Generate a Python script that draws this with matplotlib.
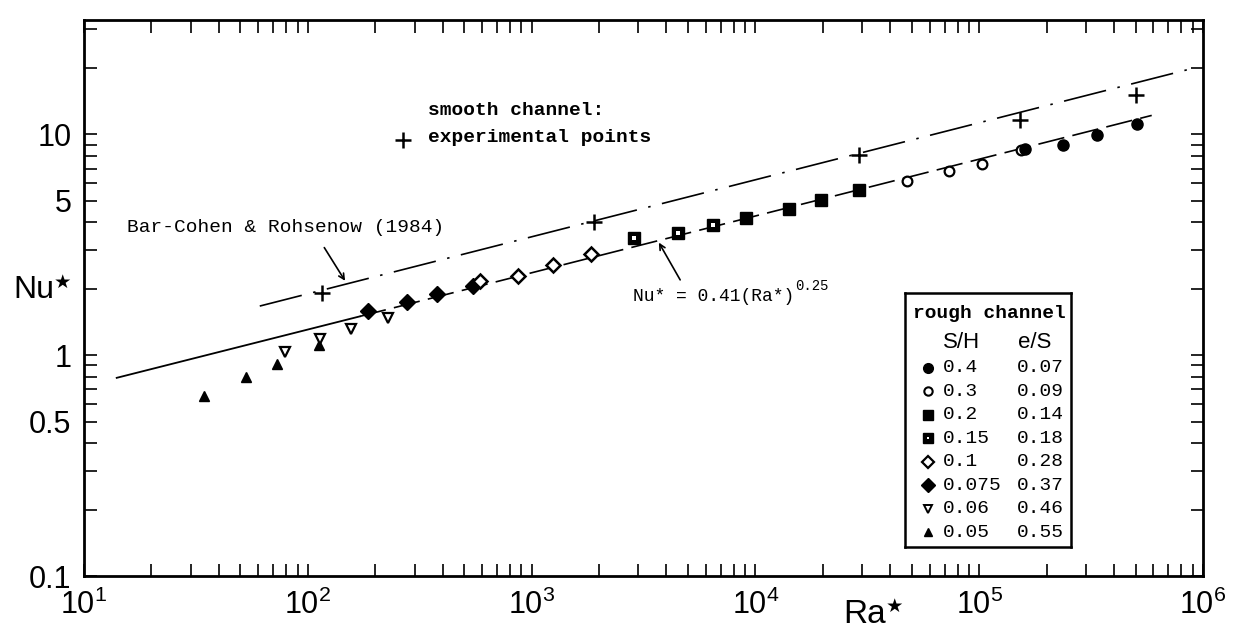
import numpy as np
import matplotlib
matplotlib.use('Agg')
import matplotlib.pyplot as plt
from matplotlib.ticker import FixedLocator, FixedFormatter, LogLocator, NullFormatter

plt.rcParams['font.family'] = ['Liberation Sans', 'DejaVu Sans']
plt.rcParams['mathtext.default'] = 'regular'

# rough channel data (S/H groups)
tri_ra = [34.5, 53, 72.6, 112]            # S/H 0.05
tri_nu = [0.655, 0.797, 0.91, 1.11]
inv_ra = [78.9, 113, 156, 229]            # S/H 0.06
inv_nu = [1.03, 1.19, 1.32, 1.47]
dia_f_ra = [186, 278, 379, 549]           # S/H 0.075
dia_f_nu = [1.59, 1.75, 1.90, 2.06]
dia_o_ra = [590, 865, 1242, 1840]         # S/H 0.1
dia_o_nu = [2.17, 2.28, 2.56, 2.87]
sq_d_ra = [2865, 4520, 6490]              # S/H 0.15
sq_d_nu = [3.38, 3.56, 3.91]
sq_f_ra = [9120, 14060, 19560, 28970]     # S/H 0.2
sq_f_nu = [4.20, 4.61, 5.06, 5.61]
circ_o_ra = [47550, 73300, 103000, 154000]  # S/H 0.3
circ_o_nu = [6.15, 6.82, 7.33, 8.47]
circ_f_ra = [160500, 238000, 335000, 506000]  # S/H 0.4
circ_f_nu = [8.57, 8.93, 9.90, 11.2]

# smooth channel experimental points
smooth_ra = [115.6, 1897, 28970, 152800, 501000]
smooth_nu = [1.92, 4.03, 8.05, 11.68, 15.1]

# correlation lines (end points)
corr_ra = [14, 171, 5.9e5]
corr_nu = [0.79, 1.50, 12.2]
bc_ra = [61, 9.3e5]
bc_nu = [1.67, 20.1]

# legend table
sh_labels = ['0.4', '0.3', '0.2', '0.15', '0.1', '0.075', '0.06', '0.05']
es_labels = ['0.07', '0.09', '0.14', '0.18', '0.28', '0.37', '0.46', '0.55']

yticks = [0.1, 0.5, 1, 5, 10]
yticklabels = ['0.1', '0.5', '1', '5', '10']

fig = plt.figure(figsize=(12.37, 6.32), dpi=100)
ax = fig.add_axes([84/1237, 1-576/632, 1119/1237, 556/632])
ax.set_xscale('log')
ax.set_yscale('log')
ax.set_xlim(10, 1e6)
ax.set_ylim(0.1, 33)

# lines
ax.plot(corr_ra[:2], corr_nu[:2], color='black', lw=1.3)
ax.plot(corr_ra[1:], corr_nu[1:], color='black', lw=1.2, dashes=(16, 5))
ax.plot(bc_ra, bc_nu, color='black', lw=1.2, dashes=(26, 7, 1.5, 7))

# markers
ax.plot(smooth_ra, smooth_nu, '+', color='black', ms=11, mew=1.8)
ax.plot(tri_ra, tri_nu, '^', color='black', ms=7)
ax.plot(inv_ra, inv_nu, 'v', color='black', mfc='white', ms=7, mew=1.6)
ax.plot(dia_f_ra, dia_f_nu, 'D', color='black', ms=8)
ax.plot(dia_o_ra, dia_o_nu, 'D', color='black', mfc='white', ms=7, mew=1.8)
ax.plot(sq_d_ra, sq_d_nu, 's', color='black', ms=8)
ax.plot(sq_d_ra, sq_d_nu, 's', color='white', mew=0, ms=2.2)
ax.plot(sq_f_ra, sq_f_nu, 's', color='black', ms=8)
ax.plot(circ_o_ra, circ_o_nu, 'o', color='black', mfc='white', ms=7, mew=1.6)
ax.plot(circ_f_ra, circ_f_nu, 'o', color='black', ms=8)

# axes styling
for s in ax.spines.values():
    s.set_linewidth(2)
ax.yaxis.set_major_locator(FixedLocator(yticks))
ax.yaxis.set_major_formatter(FixedFormatter(yticklabels))
ax.yaxis.set_minor_locator(LogLocator(base=10, subs=np.arange(2, 10)))
ax.yaxis.set_minor_formatter(NullFormatter())
ax.xaxis.set_minor_locator(LogLocator(base=10, subs=np.arange(2, 10)))
ax.xaxis.set_minor_formatter(NullFormatter())
ax.tick_params(which='both', direction='in', top=True, right=True,
               length=9, width=1.2, labelsize=22)
ax.tick_params(axis='y', pad=9)
ax.tick_params(axis='x', pad=10)

mono = 'Liberation Mono'

# annotations
ax.text(0.3074, 0.838, 'smooth channel:', transform=ax.transAxes, family=mono,
        fontsize=14, fontweight='bold', va='center', ha='left')
ax.text(0.3074, 0.788, 'experimental points', transform=ax.transAxes, family=mono,
        fontsize=14, fontweight='bold', va='center', ha='left')
ax.plot([0.285], [0.784], '+', color='black', ms=11, mew=1.8, transform=ax.transAxes)

ax.text(0.0384, 0.626, 'Bar-Cohen & Rohsenow (1984)', transform=ax.transAxes,
        family=mono, fontsize=14, va='center', ha='left')
ax.annotate('', xy=(149, 2.12), xytext=(116.7, 3.15),
            arrowprops=dict(arrowstyle='->', color='black', lw=1.2))

ftxt = ax.text(0.4906, 0.502, 'Nu* = 0.41(Ra*)', transform=ax.transAxes,
               family=mono, fontsize=13, va='center', ha='left')
ax.annotate('0.25', xy=(1, 1), xycoords=ftxt, xytext=(1, 2),
            textcoords='offset points', family=mono, fontsize=10,
            va='center', ha='left')
ax.annotate('', xy=(3652, 3.32), xytext=(4677, 2.14),
            arrowprops=dict(arrowstyle='->', color='black', lw=1.2))

# axis labels
nu_lab = fig.text(13/1237, 1-290/632, 'Nu', fontsize=23, va='center', ha='left')
ax.annotate('★', xy=(1, 1), xycoords=nu_lab, xytext=(0, -5),
            textcoords='offset points', fontsize=14, va='center', ha='left',
            family='DejaVu Sans')
ra_lab = fig.text(843/1237, 2/632, 'Ra', fontsize=24, va='bottom', ha='left')
ax.annotate('★', xy=(1, 1), xycoords=ra_lab, xytext=(0, -5),
            textcoords='offset points', fontsize=14, va='center', ha='left',
            family='DejaVu Sans')

# legend box
lg = fig.add_axes([905/1237, 1-547/632, 166/1237, 254/632])
lg.set_xlim(0, 1)
lg.set_ylim(0, 1)
lg.set_xticks([])
lg.set_yticks([])
for s in lg.spines.values():
    s.set_linewidth(1.8)
lg.text(0.51, 0.921, 'rough channel', family=mono, fontsize=14,
        fontweight='bold', ha='center', va='center')
lg.text(0.343, 0.807, 'S/H', fontsize=16, ha='center', va='center')
lg.text(0.783, 0.807, 'e/S', fontsize=16, ha='center', va='center')

rows = np.linspace(0.705, 0.059, len(sh_labels))
styles = [dict(marker='o', mfc='black', ms=7),
          dict(marker='o', mfc='white', ms=6, mew=1.5),
          dict(marker='s', mfc='black', ms=7),
          dict(marker='s', mfc='black', ms=7),
          dict(marker='D', mfc='white', ms=6, mew=1.6),
          dict(marker='D', mfc='black', ms=7),
          dict(marker='v', mfc='white', ms=6, mew=1.4),
          dict(marker='^', mfc='black', ms=6)]
for yy, sh, es, st in zip(rows, sh_labels, es_labels, styles):
    lg.plot([0.139], [yy], ls='none', color='black', **st)
    lg.text(0.229, yy, sh, family=mono, fontsize=14, ha='left', va='center')
    lg.text(0.675, yy, es, family=mono, fontsize=14, ha='left', va='center')
lg.plot([0.139], [rows[3]], 's', color='white', mew=0, ms=2)

fig.savefig('out.png', dpi=100, facecolor='white')
